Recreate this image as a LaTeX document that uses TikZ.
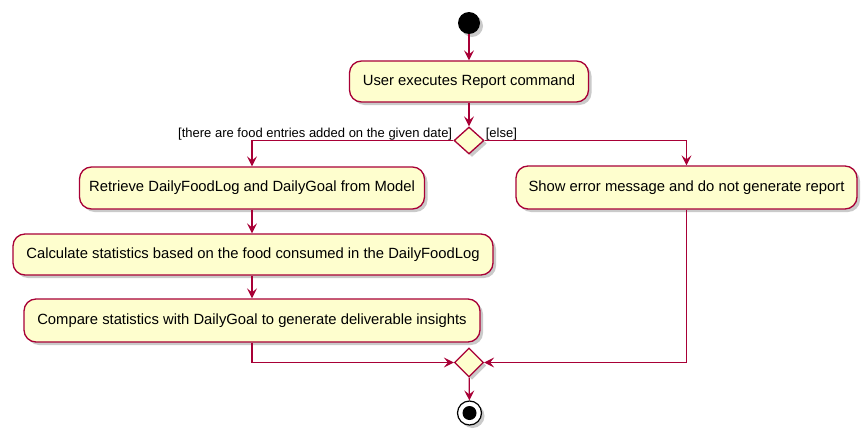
\documentclass[tikz,border=0pt]{standalone}
\usepackage{fontspec}
\setmainfont{Liberation Sans}
\usetikzlibrary{arrows.meta,shapes.geometric,shadows}
\definecolor{pumlred}{HTML}{A80036}
\definecolor{pumlfill}{HTML}{FEFECE}
\tikzset{
  act/.style={draw=pumlred, fill=pumlfill, line width=1.3pt, rounded corners=12pt,
    inner sep=0pt, font=\fontsize{14.8}{16}\selectfont,
    drop shadow={shadow xshift=3pt, shadow yshift=-3pt, opacity=0.35, fill=black!60}},
  dec/.style={diamond, draw=pumlred, fill=pumlfill, line width=1.3pt, inner sep=0pt,
    drop shadow={shadow xshift=3pt, shadow yshift=-3pt, opacity=0.35, fill=black!60}},
  flow/.style={draw=pumlred, line width=1.3pt, -{Stealth[length=10pt,width=10pt,inset=4pt]}},
  guard/.style={font=\fontsize{13}{15}\selectfont, inner sep=1pt},
}
\begin{document}
\begin{tikzpicture}[x=1pt,y=-1pt]
\useasboundingbox (0,0) rectangle (868,439);
\node[circle, fill=black, minimum size=22pt, inner sep=0pt,
  drop shadow={shadow xshift=3pt, shadow yshift=-3pt, opacity=0.35, fill=black!60}] (start) at (469,23) {};
\node[act, minimum width=239pt, minimum height=41pt] (a1) at (469,81.5) {User executes Report command};
\node[dec, minimum width=30pt, minimum height=27pt] (d1) at (469,140.5) {};
\node[act, minimum width=345pt, minimum height=42pt] (a2) at (252,188) {Retrieve DailyFoodLog and DailyGoal from Model};
\node[act, minimum width=480pt, minimum height=41pt] (a3) at (253,254.5) {Calculate statistics based on the food consumed in the DailyFoodLog};
\node[act, minimum width=456pt, minimum height=43pt] (a4) at (252,320.5) {Compare statistics with DailyGoal to generate deliverable insights};
\node[act, minimum width=341pt, minimum height=43pt] (ae) at (686.5,187.5) {Show error message and do not generate report};
\node[dec, minimum width=29pt, minimum height=29pt] (d2) at (469,362.5) {};
\node[circle, draw=black, fill=white, line width=1.2pt, minimum size=24pt, inner sep=0pt,
  drop shadow={shadow xshift=3pt, shadow yshift=-3pt, opacity=0.35, fill=black!60}] (end) at (469.5,413) {};
\node[circle, fill=black, minimum size=14pt, inner sep=0pt] (endin) at (end.center) {};

\node[guard, anchor=south east] (g1) at ([yshift=-1pt]d1.west) {[there are food entries added on the given date]};
\node[guard, anchor=south west] (g2) at ([yshift=-1pt]d1.east) {[else]};

\draw[flow] (start) -- (a1);
\draw[flow] (a1) -- (d1);
\draw[flow] (d1.west) -| (a2.north);
\draw[flow] (d1.east) -| (ae.north);
\draw[flow] (a2.south) -- (a3.north -| a2.south);
\draw[flow] (a3.south -| a2.south) -- (a4.north -| a2.south);
\draw[flow] (a4.south -| a2.south) |- (d2.west);
\draw[flow] (ae.south) |- (d2.east);
\draw[flow] (d2) -- (end);
\end{tikzpicture}
\end{document}
